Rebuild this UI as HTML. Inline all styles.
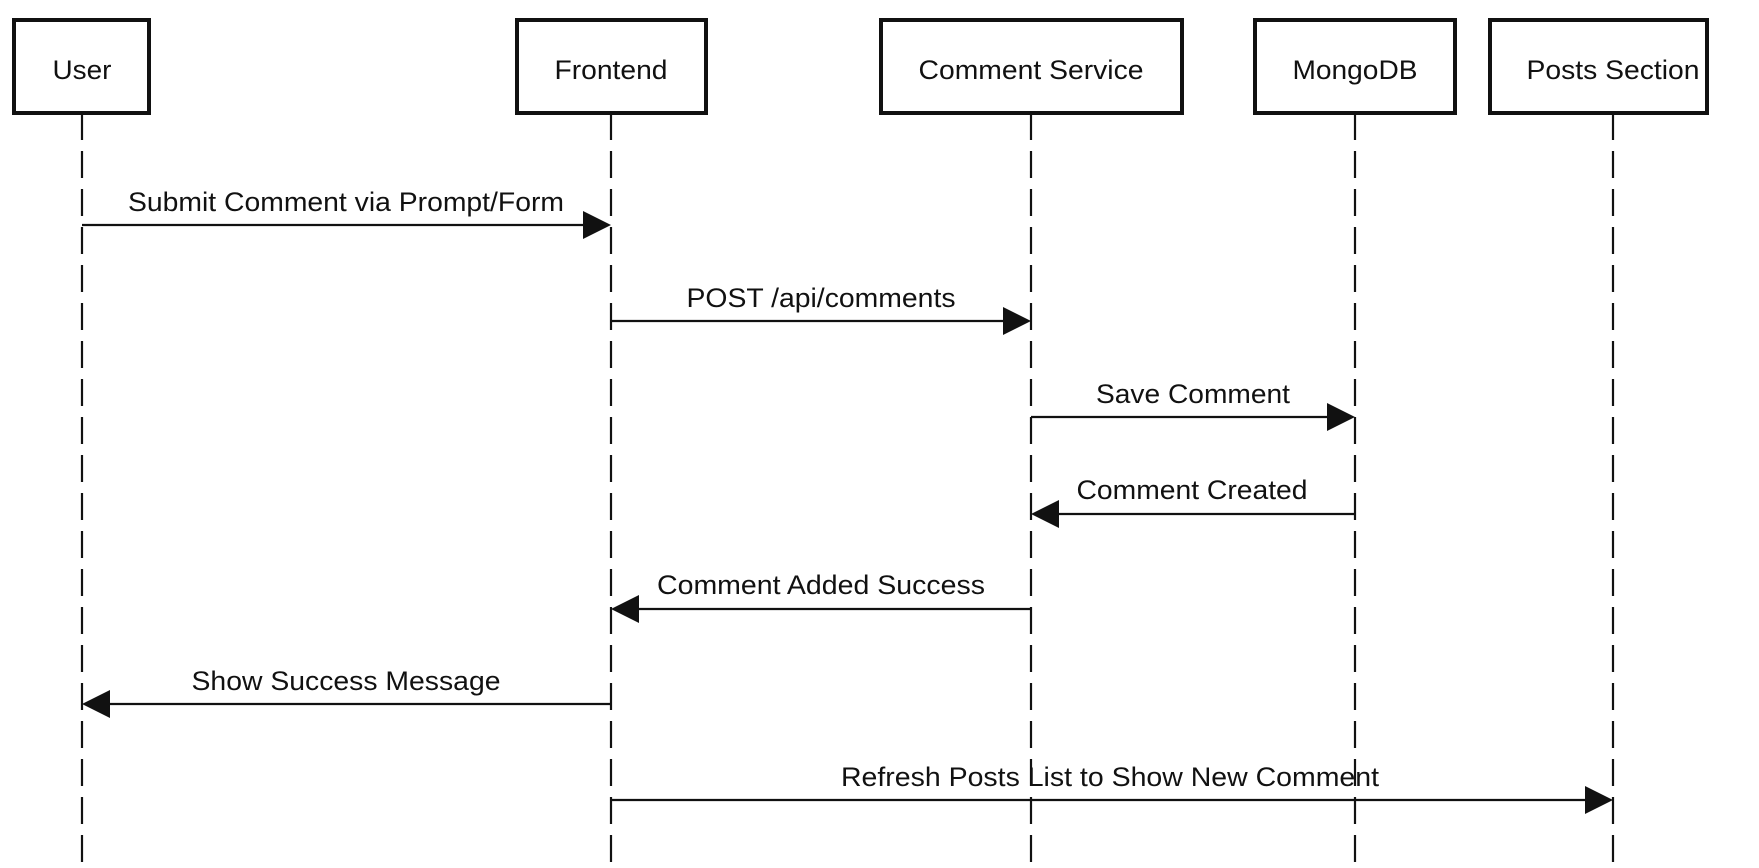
<!DOCTYPE html>
<html><head><meta charset="utf-8"><style>
html,body{margin:0;padding:0;background:#fff;}
svg{display:block;}
text{font-family:"Liberation Sans",Arial,sans-serif;font-size:27px;fill:#111;}
</style></head><body>
<svg width="1759" height="868" viewBox="0 0 1759 868" xmlns="http://www.w3.org/2000/svg">
<g stroke="#111" stroke-width="2.2" stroke-dasharray="27 11" fill="none">
<line x1="82" y1="113" x2="82" y2="868"/>
<line x1="611" y1="113" x2="611" y2="868"/>
<line x1="1031" y1="113" x2="1031" y2="868"/>
<line x1="1355" y1="113" x2="1355" y2="868"/>
<line x1="1613" y1="113" x2="1613" y2="868"/>
</g>
<g stroke="#111" stroke-width="4" fill="#fff">
<rect x="14" y="20" width="135" height="93"/>
<rect x="517" y="20" width="189" height="93"/>
<rect x="881" y="20" width="301" height="93"/>
<rect x="1255" y="20" width="200" height="93"/>
<rect x="1490" y="20" width="217" height="93"/>
</g>
<g text-anchor="middle">
<text x="82" y="79" textLength="59" lengthAdjust="spacingAndGlyphs">User</text>
<text x="611" y="79" textLength="113" lengthAdjust="spacingAndGlyphs">Frontend</text>
<text x="1031" y="79" textLength="225" lengthAdjust="spacingAndGlyphs">Comment Service</text>
<text x="1355" y="79" textLength="125" lengthAdjust="spacingAndGlyphs">MongoDB</text>
<text x="1613" y="79" textLength="173" lengthAdjust="spacingAndGlyphs">Posts Section</text>
</g>
<g stroke="#111" stroke-width="2.2">
<line x1="82" y1="225" x2="585" y2="225"/>
<line x1="611" y1="321" x2="1005" y2="321"/>
<line x1="1031" y1="417" x2="1329" y2="417"/>
<line x1="1355" y1="514" x2="1057" y2="514"/>
<line x1="1031" y1="609" x2="637" y2="609"/>
<line x1="611" y1="704" x2="108" y2="704"/>
<line x1="611" y1="800" x2="1587" y2="800"/>
</g>
<g fill="#111">
<polygon points="611,225 583,211 583,239"/>
<polygon points="1031,321 1003,307 1003,335"/>
<polygon points="1355,417 1327,403 1327,431"/>
<polygon points="1031,514 1059,500 1059,528"/>
<polygon points="611,609 639,595 639,623"/>
<polygon points="82,704 110,690 110,718"/>
<polygon points="1613,800 1585,786 1585,814"/>
</g>
<g text-anchor="middle">
<text x="346" y="211" textLength="436" lengthAdjust="spacingAndGlyphs">Submit Comment via Prompt/Form</text>
<text x="821" y="307" textLength="269" lengthAdjust="spacingAndGlyphs">POST /api/comments</text>
<text x="1193" y="403" textLength="194" lengthAdjust="spacingAndGlyphs">Save Comment</text>
<text x="1192" y="499" textLength="231" lengthAdjust="spacingAndGlyphs">Comment Created</text>
<text x="821" y="594" textLength="328" lengthAdjust="spacingAndGlyphs">Comment Added Success</text>
<text x="346" y="690" textLength="309" lengthAdjust="spacingAndGlyphs">Show Success Message</text>
<text x="1110" y="786" textLength="538" lengthAdjust="spacingAndGlyphs">Refresh Posts List to Show New Comment</text>
</g>
</svg>
</body></html>
